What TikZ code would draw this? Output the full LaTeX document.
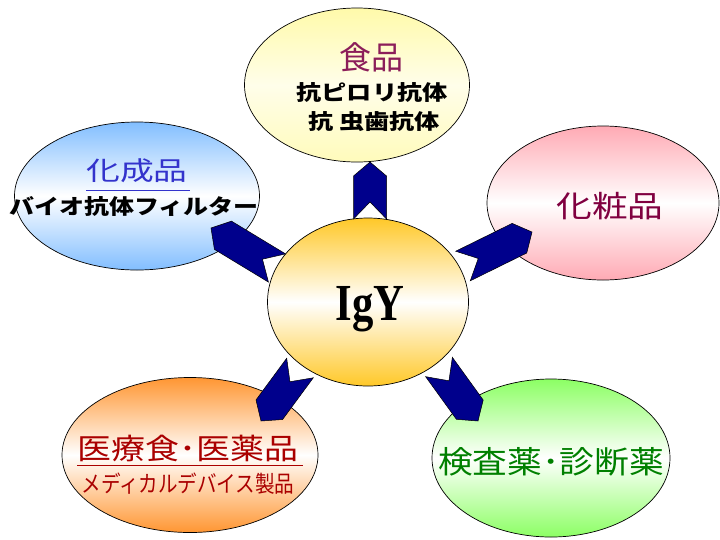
\documentclass[tikz,border=0pt]{standalone}
\usepackage{fontspec}
\setmainfont{Liberation Serif}
\newfontfamily\jp{Noto Sans CJK JP}
\usetikzlibrary{calc,shapes.geometric}
\definecolor{navyA}{RGB}{0,0,140}
\definecolor{orangeC}{RGB}{255,200,40}
\definecolor{yellowT}{RGB}{255,250,170}
\definecolor{blueL}{RGB}{130,190,255}
\definecolor{pinkR}{RGB}{255,170,180}
\definecolor{orangeB}{RGB}{255,150,50}
\definecolor{greenB}{RGB}{140,255,100}
\definecolor{magT}{RGB}{140,30,90}
\definecolor{magR}{RGB}{128,0,64}
\definecolor{blueT}{RGB}{51,51,204}
\definecolor{redT}{RGB}{170,0,0}
\definecolor{greenT}{RGB}{0,128,0}
\newcommand\fsz[1]{\fontsize{#1}{#1}\selectfont}
\newcommand\navyarrow[2]{%
  \coordinate (#1-s) at ($(#2)!14pt!(#1)$);
  \coordinate (#1-n) at ($(#1)!17pt!(#2)$);
  \draw[arrowbody] ($(#1)!16.5pt!90:(#2)$) -- ($(#1-s)!16.5pt!-90:(#1)$) -- (#2)
    -- ($(#1-s)!16.5pt!90:(#1)$) -- ($(#1)!16.5pt!-90:(#2)$) -- (#1-n) -- cycle;}
\begin{document}
\begin{tikzpicture}[x=1pt,y=-1pt,
  bubble/.style={ellipse, draw=black, line width=0.7pt, inner sep=0pt},
  arrowbody/.style={fill=navyA, draw=black, line width=0.5pt, line join=miter},
  label/.style={inner sep=0pt, font=\jp}]
\useasboundingbox (0,0) rectangle (720,539);
% outer bubbles
\node[bubble, minimum width=225pt, minimum height=154pt,
  top color=yellowT, bottom color=yellowT!80!white, middle color=yellowT!25!white] (food) at (357,85) {};
\node[bubble, minimum width=245pt, minimum height=148pt,
  top color=blueL, bottom color=blueL, middle color=white] (chem) at (137,196) {};
\node[bubble, minimum width=232pt, minimum height=154pt,
  top color=pinkR, bottom color=pinkR, middle color=white] (cosm) at (603,203) {};
\node[bubble, minimum width=256pt, minimum height=155pt,
  top color=orangeB, bottom color=orangeB, middle color=white] (med) at (190,455) {};
\node[bubble, minimum width=238pt, minimum height=158pt,
  top color=greenB, bottom color=greenB, middle color=white] (diag) at (551,458) {};
% centre
\node[bubble, minimum width=201pt, minimum height=168pt,
  top color=orangeC, bottom color=orangeC, middle color=white] (igy) at (368,302) {};
% arrows
\coordinate (tT) at (370,219); \coordinate (tP) at (370,162);
\coordinate (lT) at (277,268); \coordinate (lP) at (211,228);
\coordinate (rT) at (463,266); \coordinate (rP) at (532,232);
\coordinate (blT) at (300,368); \coordinate (blP) at (261,421);
\coordinate (brT) at (439,367); \coordinate (brP) at (478,421);
\navyarrow{tT}{tP}
\navyarrow{lT}{lP}
\navyarrow{rT}{rP}
\navyarrow{blT}{blP}
\navyarrow{brT}{brP}
\node[inner sep=0pt] (igyT) at (370,309) {\scalebox{0.82}[1]{\fsz{52}\bfseries IgY}};
% texts
\node[label, text=magT] (foodT) at (371,57) {\fsz{32}食品};
\node[label] (food1) at (372,92) {\scalebox{1.2}[1]{\fsz{21}\bfseries 抗ピロリ抗体}};
\node[label] (food2) at (374,122) {\scalebox{1.2}[1]{\fsz{21}\bfseries 抗 虫歯抗体}};
\node[label, text=blueT] (chemT) at (137,171) {\scalebox{1.3}[1]{\fsz{26}化成品}};
\draw[blueT, line width=1pt] (86,190) -- (190,190);
\node[label] (chem1) at (134,206) {\scalebox{1.19}[1]{\fsz{21}\bfseries バイオ抗体フィルター}};
\node[label, text=magR] (cosmT) at (610,206) {\scalebox{1.19}[1]{\fsz{30}化粧品}};
\node[label, text=redT] (medT) at (188,448) {\scalebox{1.17}[1]{\fsz{29}医療食･医薬品}};
\draw[redT, line width=1pt] (77,465) -- (303,465);
\node[label, text=redT] (med1) at (188,484) {\scalebox{0.85}[1]{\fsz{23}メディカルデバイス製品}};
\node[label, text=greenT] (diagT) at (551,462) {\scalebox{1.12}[1]{\fsz{31}検査薬･診断薬}};
\end{tikzpicture}
\end{document}
